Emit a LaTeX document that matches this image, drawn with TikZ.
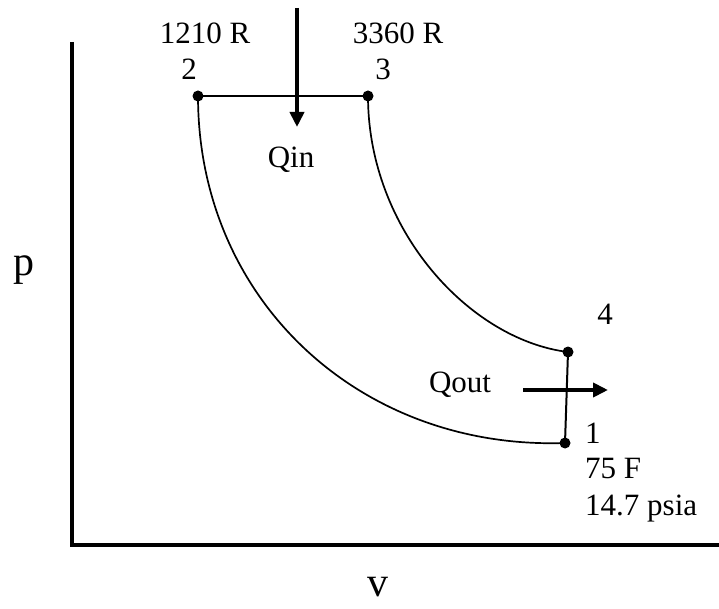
\documentclass[tikz,border=0pt]{standalone}
\usepackage{fontspec}
\setmainfont{Liberation Serif}
\usetikzlibrary{arrows.meta}

\tikzset{
  etiqueta/.style={font=\fontsize{31}{33}\selectfont, anchor=base, inner sep=0pt},
  eje/.style={font=\fontsize{42}{44}\selectfont, anchor=base, inner sep=0pt},
  calor/.style={-{Triangle[length=15pt,width=14pt]}, line width=3.8pt}
}

\begin{document}
\begin{tikzpicture}[x=1pt, y=1pt]
                        \useasboundingbox (-72,-63) rectangle (647,545);

                        % Ejes
                        \coordinate (origen) at (0,0);
                        \coordinate (ytop) at (0,503);
                        \coordinate (xend) at (647,0);
                        \draw[line width=4pt] (ytop) -- (origen) -- (xend);
                        \node[eje] (p) at (-48,269) {p};
                        \node[eje] (v) at (306,-51) {v};

                        % Estados del ciclo
                        \coordinate (p1) at (493,102);
                        \coordinate (p2) at (126,449);
                        \coordinate (p3) at (296,449);
                        \coordinate (p4) at (496,193);

                        % 2-3 calor a presion constante, 4-1 rechazo
                        \draw[line width=2.2pt] (p2) -- (p3);
                        \draw[line width=2pt] (p4) -- (p1);

                        % Compresion 1-2 y expansion 3-4
                        \draw[line width=1.7pt] (p2) .. controls (126,245) and (288,95) .. (p1);
                        \draw[line width=1.7pt] (p3) .. controls (296,315) and (398,205) .. (p4);

                        % Puntos
                        \foreach \q in {p1,p2,p3,p4}
                            \fill (\q) circle (5.5pt);

                        % Flechas de calor
                        \coordinate (qintop) at (225,537);
                        \coordinate (qintip) at (225,418);
                        \draw[calor] (qintop) -- (qintip);
                        \coordinate (qoutini) at (451,155);
                        \coordinate (qoutfin) at (536,155);
                        \draw[calor] (qoutini) -- (qoutfin);

                        % Etiquetas
                        \node[etiqueta] (t2) at (133,501) {1210 R};
                        \node[etiqueta] (n2) at (117,465) {2};
                        \node[etiqueta] (t3) at (326,501) {3360 R};
                        \node[etiqueta] (n3) at (311,465) {3};
                        \node[etiqueta] (qin) at (219,377) {Qin};
                        \node[etiqueta] (qout) at (388,153) {Qout};
                        \node[etiqueta] (n4) at (533,220) {4};
                        \node[etiqueta, anchor=base west] (n1) at (513,102) {1};
                        \node[etiqueta, anchor=base west] (t1) at (513,67) {75 F};
                        \node[etiqueta, anchor=base west] (pr1) at (513,30) {14.7 psia};
\end{tikzpicture}
\end{document}
